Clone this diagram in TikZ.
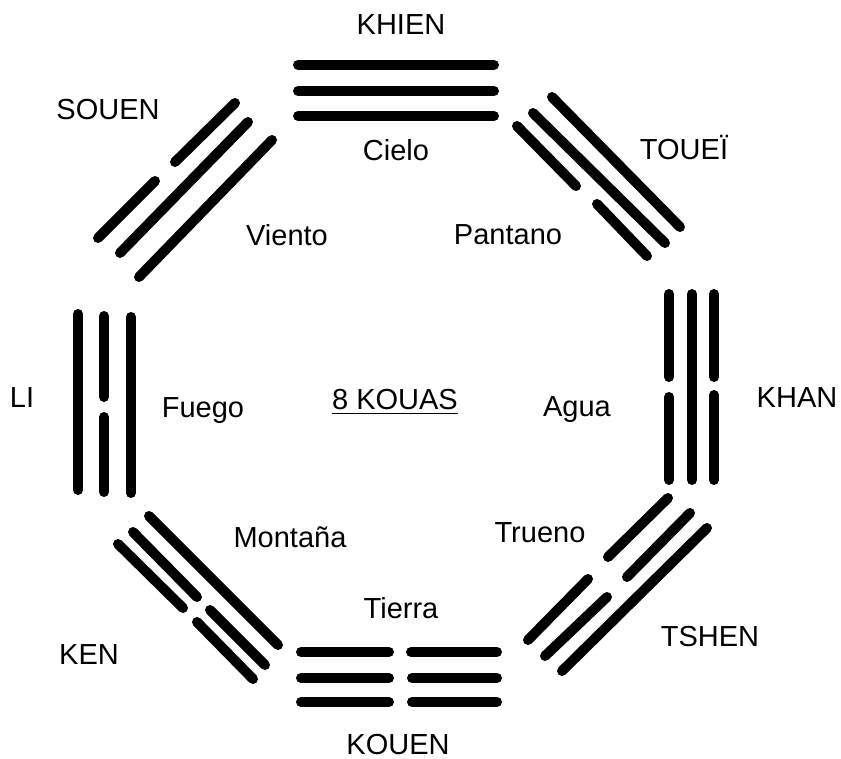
\documentclass[tikz,border=0pt]{standalone}
\usepackage{fontspec}
\setmainfont{Liberation Sans}
\usepackage{tikz}

\tikzset{
  trig/.style={line width=5pt,line cap=round},
  kname/.style={font=\fontsize{14.5}{17}\selectfont},
}

\begin{document}
\begin{tikzpicture}[x=0.5pt,y=-0.5pt]
\useasboundingbox (0,0) rectangle (841,759);

% Khien (top)
\draw[trig] (298,65) -- (494,65);
\draw[trig] (298,91) -- (494,91);
\draw[trig] (298,116) -- (494,116);

% Touei (top right)
\draw[trig] (552,97) -- (680,227);
\draw[trig] (533,113) -- (665,243);
\draw[trig] (517,126) -- (576,186);
\draw[trig] (597,204) -- (647,256);

% Khan (right)
\draw[trig] (669,294) -- (669,377);
\draw[trig] (669,397) -- (669,480);
\draw[trig] (692,294) -- (692,480);
\draw[trig] (714,294) -- (714,377);
\draw[trig] (714,395) -- (714,480);

% Tshen (bottom right)
\draw[trig] (562,671) -- (707,528);
\draw[trig] (545,656) -- (607,597);
\draw[trig] (627,577) -- (690,513);
\draw[trig] (528,640) -- (588,579);
\draw[trig] (608,557) -- (668,498);

% Kouen (bottom)
\draw[trig] (301,652) -- (389,652);
\draw[trig] (411,652) -- (497,652);
\draw[trig] (301,678) -- (389,678);
\draw[trig] (412,678) -- (497,678);
\draw[trig] (301,702) -- (389,702);
\draw[trig] (412,702) -- (497,702);

% Ken (bottom left)
\draw[trig] (149,516) -- (278,645);
\draw[trig] (133,532) -- (197,597);
\draw[trig] (210,610) -- (265,665);
\draw[trig] (118,544) -- (183,608);
\draw[trig] (197,622) -- (253,679);

% Li (left)
\draw[trig] (78,314) -- (78,490);
\draw[trig] (104,316) -- (104,397);
\draw[trig] (104,417) -- (104,492);
\draw[trig] (131,317) -- (131,493);

% Souen (top left)
\draw[trig] (175,162) -- (235,103);
\draw[trig] (98,238) -- (155,181);
\draw[trig] (120,253) -- (248,122);
\draw[trig] (139,277) -- (272,140);

% Names
\node[kname] (khien) at (401,25) {KHIEN};
\node[kname] (touei) at (684,148) {TOUEÏ};
\node[kname] (khan) at (797,398) {KHAN};
\node[kname] (tshen) at (710,637) {TSHEN};
\node[kname] (kouen) at (398,745) {KOUEN};
\node[kname] (ken) at (89,655) {KEN};
\node[kname] (li) at (22,398) {LI};
\node[kname] (souen) at (108,110) {SOUEN};

% Meanings
\node[kname] (cielo) at (396,150) {Cielo};
\node[kname] (pantano) at (508,235) {Pantano};
\node[kname] (agua) at (577,410) {Agua};
\node[kname] (trueno) at (540,533) {Trueno};
\node[kname] (tierra) at (401,608) {Tierra};
\node[kname] (montana) at (290,537) {Montaña};
\node[kname] (fuego) at (203,411) {Fuego};
\node[kname] (viento) at (287,235) {Viento};

\node[kname] (kouas) at (395,402) {\underline{8 KOUAS}};
\end{tikzpicture}
\end{document}
